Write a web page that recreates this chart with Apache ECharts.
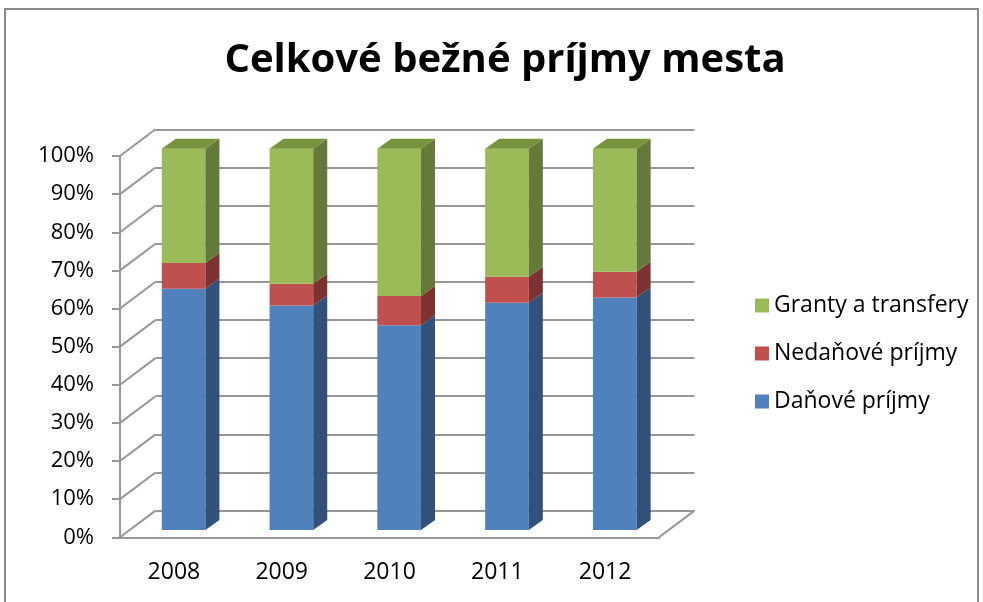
<!DOCTYPE html>
<html>
<head>
<meta charset="utf-8">
<script src="https://cdn.jsdelivr.net/npm/echarts@6/dist/echarts.min.js"></script>
<style>
  html, body { margin: 0; padding: 0; background: #fff; }
  #main { width: 983px; height: 602px; }
</style>
</head>
<body>
<div id="main"></div>
<script>
const chart = echarts.init(document.getElementById('main'));

// data (share of total, %)
const years = ['2008', '2009', '2010', '2011', '2012'];
const danove = [63.3, 58.9, 53.7, 59.6, 61.0];
const nedanove = [6.7, 5.7, 7.7, 6.8, 6.7];
const granty = [30.0, 35.4, 38.6, 33.6, 32.3];
const yTicks = [0, 10, 20, 30, 40, 50, 60, 70, 80, 90, 100];

const FONT = 'Open Sans';
const GRID_COLOR = '#979797';

// 3d offsets in px
const wallDx = 35.5, wallDy = -26.7;
const barOx = 9.7, barOy = -7.3;
const depthDx = 14, depthDy = -10;

const seriesDefs = [
  { name: 'Daňové príjmy', values: danove, front: '#4f81bd', side: '#31517a', top: '#3f6899' },
  { name: 'Nedaňové príjmy', values: nedanove, front: '#c0504d', side: '#7c3230', top: '#9b3f3c' },
  { name: 'Granty a transfery', values: granty, front: '#9bbb59', side: '#65793a', top: '#77933c' }
];

// build stacked ranges
const base = years.map(() => 0);
const barSeries = seriesDefs.map((def, si) => {
  const data = def.values.map((v, i) => {
    const lo = base[i];
    base[i] += v;
    return [i, lo, base[i], si === seriesDefs.length - 1 ? 1 : 0];
  });
  return {
    type: 'custom',
    name: def.name,
    xAxisIndex: 0,
    yAxisIndex: 0,
    itemStyle: { color: def.front },
    encode: { x: 0, y: [1, 2] },
    z: 5,
    data: data,
    renderItem: function (params, api) {
      const cat = api.value(0);
      const pLo = api.coord([cat, api.value(1)]);
      const pHi = api.coord([cat, api.value(2)]);
      const bw = api.size([1, 0])[0] * 0.405;
      const x0 = pLo[0] - bw / 2 + barOx;
      const x1 = x0 + bw;
      const yb = pLo[1] + barOy;
      const yt = pHi[1] + barOy;
      const children = [
        {
          type: 'rect',
          shape: { x: x0, y: yt, width: bw, height: yb - yt },
          style: { fill: def.front }
        },
        {
          type: 'polygon',
          shape: { points: [[x1, yb], [x1 + depthDx, yb + depthDy], [x1 + depthDx, yt + depthDy], [x1, yt]] },
          style: { fill: def.side }
        }
      ];
      if (api.value(3)) {
        children.push({
          type: 'polygon',
          shape: { points: [[x0, yt], [x1, yt], [x1 + depthDx, yt + depthDy], [x0 + depthDx, yt + depthDy]] },
          style: { fill: def.top }
        });
      }
      return { type: 'group', children: children };
    }
  };
});

// diagonal lines from the front axis to the back wall
const wallSeries = {
  type: 'custom',
  xAxisIndex: 0,
  yAxisIndex: 0,
  silent: true,
  z: 1,
  data: yTicks,
  encode: { y: 0 },
  renderItem: function (params, api) {
    const cs = params.coordSys;
    const y = api.coord([0, api.value(0)])[1];
    const children = [{
      type: 'line',
      shape: { x1: cs.x, y1: y, x2: cs.x + wallDx, y2: y + wallDy },
      style: { stroke: GRID_COLOR, lineWidth: 2 }
    }];
    if (api.value(0) === 0) {
      children.push({
        type: 'line',
        shape: { x1: cs.x + cs.width, y1: y, x2: cs.x + cs.width + wallDx, y2: y + wallDy },
        style: { stroke: GRID_COLOR, lineWidth: 2 }
      });
    }
    return { type: 'group', children: children };
  }
};

chart.setOption({
  animation: false,
  backgroundColor: '#fff',
  textStyle: { fontFamily: FONT },
  title: {
    text: 'Celkové bežné príjmy mesta',
    left: 500,
    textAlign: 'center',
    top: 36,
    textStyle: { fontFamily: FONT, fontWeight: 'bold', fontSize: 40, color: '#000' }
  },
  legend: {
    orient: 'vertical',
    left: 750,
    top: 289,
    itemWidth: 14,
    itemHeight: 14,
    itemGap: 25,
    icon: 'rect',
    data: ['Granty a transfery', 'Nedaňové príjmy', 'Daňové príjmy'],
    textStyle: { fontFamily: FONT, fontSize: 23, color: '#000', padding: [0, 0, 0, 0] }
  },
  graphic: [{
    type: 'rect',
    shape: { x: 5, y: 9, width: 973, height: 620 },
    style: { fill: null, stroke: '#8a8a8a', lineWidth: 2 },
    silent: true,
    z: -10
  }],
  grid: [
    { left: 120, top: 156, width: 539, height: 381.3 },
    { left: 155.5, top: 129.3, width: 539, height: 381.3 }
  ],
  xAxis: [
    {
      type: 'category',
      gridIndex: 0,
      data: years,
      axisLine: { lineStyle: { color: GRID_COLOR, width: 2 } },
      axisTick: { length: 8, lineStyle: { color: GRID_COLOR, width: 2 } },
      axisLabel: { color: '#000', fontSize: 23, fontFamily: FONT, margin: 24 }
    },
    {
      type: 'category',
      gridIndex: 1,
      data: years,
      show: false
    }
  ],
  yAxis: [
    {
      type: 'value',
      gridIndex: 0,
      min: 0,
      max: 100,
      interval: 10,
      axisLine: { show: true, lineStyle: { color: GRID_COLOR, width: 2 } },
      axisTick: { show: true, length: 8, lineStyle: { color: GRID_COLOR, width: 2 } },
      splitLine: { show: false },
      axisLabel: { color: '#000', fontSize: 22, fontFamily: FONT, margin: 26, formatter: '{value}%' }
    },
    {
      type: 'value',
      gridIndex: 1,
      min: 0,
      max: 100,
      interval: 10,
      axisLine: { show: false },
      axisTick: { show: false },
      axisLabel: { show: false },
      splitLine: { show: true, lineStyle: { color: GRID_COLOR, width: 2 } }
    }
  ],
  series: [wallSeries].concat(barSeries)
});
</script>
</body>
</html>
